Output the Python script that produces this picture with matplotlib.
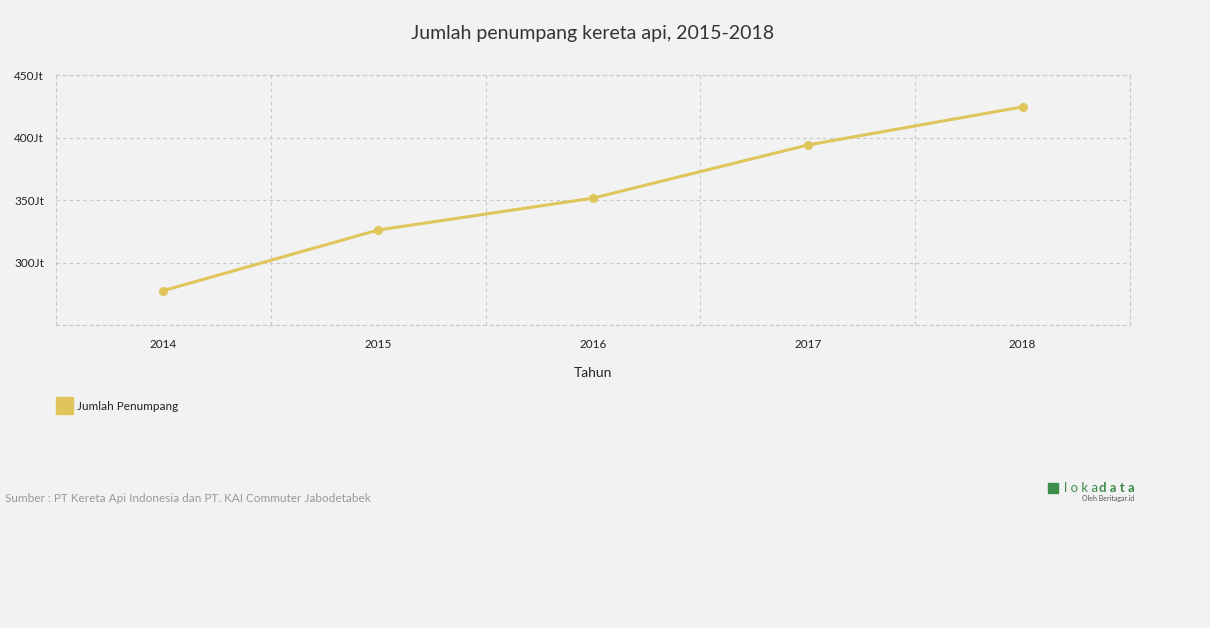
import matplotlib.pyplot as plt
from matplotlib.patches import Rectangle

plt.rcParams['font.family'] = ['Lato', 'DejaVu Sans']

years = ['2014', '2015', '2016', '2017', '2018']
penumpang = [277.5, 326, 351.5, 394, 424.5]  # juta
yticks = [300, 350, 400, 450]
ytick_labels = ['300Jt', '350Jt', '400Jt', '450Jt']

bg = '#f2f2f2'
line_color = '#e0c55a'
grid_color = '#c8c8c8'

fig = plt.figure(figsize=(12.1, 6.28), dpi=100, facecolor=bg)
ax = fig.add_axes([56 / 1210, 1 - 325 / 628, (1130 - 56) / 1210, 250 / 628])
ax.set_facecolor(bg)

x = list(range(len(years)))
ax.plot(x, penumpang, color=line_color, lw=2.2, marker='o', ms=5.5,
        solid_capstyle='round', zorder=3)

ax.set_xlim(-0.5, len(years) - 0.5)
ax.set_ylim(250, 450)
ax.set_xticks(x)
ax.set_xticklabels(years, fontsize=8.5, color='#222222')
ax.set_yticks(yticks)
ax.set_yticklabels(ytick_labels, fontsize=8.5, color='#222222')
for lab in ax.get_yticklabels():
    lab.set_horizontalalignment('left')
ax.tick_params(axis='y', length=0, pad=30)
ax.tick_params(axis='x', length=0, pad=10)

# grid: horizontal at ticks, vertical at category borders
dash = (0, (3, 3))
for yv in yticks:
    ax.axhline(yv, color=grid_color, lw=0.8, ls=dash, zorder=1)
for xv in [i + 0.5 for i in range(len(years) - 1)]:
    ax.axvline(xv, color=grid_color, lw=0.8, ls=dash, zorder=1)
for s in ax.spines.values():
    s.set_color(grid_color)
    s.set_linewidth(0.8)
    s.set_linestyle(dash)

ax.set_xlabel('Tahun', fontsize=10, color='#222222', labelpad=12)

fig.text(593 / 1210, 1 - 33 / 628, 'Jumlah penumpang kereta api, 2015-2018',
         ha='center', va='center', fontsize=14, color='#333333')

# legend
fig.patches.append(Rectangle((56 / 1210, 1 - 414 / 628), 17 / 1210, 17 / 628,
                             transform=fig.transFigure, color=line_color))
fig.text(77 / 1210, 1 - 406 / 628, 'Jumlah Penumpang', ha='left', va='center',
         fontsize=8.5, color='#222222')

fig.text(5 / 1210, 1 - 498 / 628,
         'Sumber : PT Kereta Api Indonesia dan PT. KAI Commuter Jabodetabek',
         ha='left', va='center', fontsize=8.5, color='#999999')

# lokadata mark
fig.patches.append(Rectangle((1048 / 1210, 1 - 493 / 628), 10 / 1210, 10 / 628,
                             transform=fig.transFigure, color='#3e8e4a'))
fig.text(1064 / 1210, 1 - 488 / 628, 'l o k a', ha='left', va='center',
         fontsize=9.5, color='#3e8e4a')
fig.text(1135 / 1210, 1 - 488 / 628, 'd a t a', ha='right', va='center',
         fontsize=9.5, color='#3e8e4a', fontweight='bold')
fig.text(1134 / 1210, 1 - 498 / 628, 'Oleh Beritagar.id', ha='right',
         va='center', fontsize=5, color='#555555')

fig.savefig('out.png', dpi=100, facecolor=bg)
